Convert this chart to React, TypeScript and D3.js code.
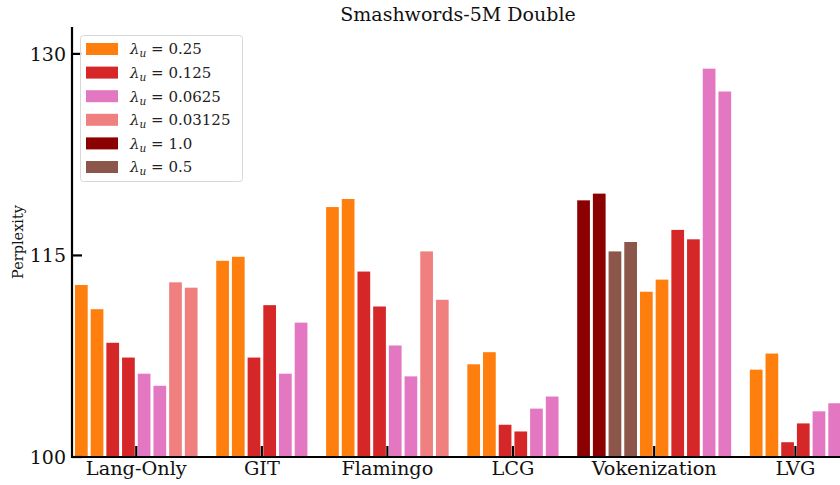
import React from "react";
import * as d3 from "d3";

// lambda_u values shown in the legend, and their colours
const seriesKeys = ["0.25", "0.125", "0.0625", "0.03125", "1.0", "0.5"];
const seriesColors = ["#ff7f0e", "#d62728", "#e377c2", "#f08080", "#8b0000", "#8c564b"];

const categories = ["Lang-Only", "GIT", "Flamingo", "LCG", "Vokenization", "LVG"];

// each series has two bars per model, listed in drawing order
const langOnlySeries = ["0.25", "0.125", "0.0625", "0.03125"];
const langOnlyValues = [112.8, 111.0, 108.5, 107.4, 106.2, 105.3, 113.0, 112.6];

const gitSeries = ["0.25", "0.125", "0.0625"];
const gitValues = [114.6, 114.9, 107.4, 111.3, 106.2, 110.0];

const flamingoSeries = ["0.25", "0.125", "0.0625", "0.03125"];
const flamingoValues = [118.6, 119.2, 113.8, 111.2, 108.3, 106.0, 115.3, 111.7];

const lcgSeries = ["0.25", "0.125", "0.0625"];
const lcgValues = [106.9, 107.8, 102.4, 101.9, 103.6, 104.5];

const vokenizationSeries = ["1.0", "0.5", "0.25", "0.125", "0.0625"];
const vokenizationValues = [119.1, 119.6, 115.3, 116.0, 112.3, 113.2, 116.9, 116.2, 128.9, 127.2];

const lvgSeries = ["0.25", "0.125", "0.0625"];
const lvgValues = [106.5, 107.7, 101.1, 102.5, 103.4, 104.0];

const groupSeries = [langOnlySeries, gitSeries, flamingoSeries, lcgSeries, vokenizationSeries, lvgSeries];
const groupValues = [langOnlyValues, gitValues, flamingoValues, lcgValues, vokenizationValues, lvgValues];

const yTicks = [100, 115, 130];

const W = 840;
const H = 485;
const serif = "'DejaVu Serif', serif";

export default function App() {
  const left = 72;
  const right = 844;
  const top = 27;
  const bottom = 457;

  // lay bars into slots, one empty slot between models
  const bars: { slot: number; value: number; key: string; group: number }[] = [];
  const groupSlots: number[][] = [];
  let slot = 0;
  groupValues.forEach((vals, g) => {
    const slots: number[] = [];
    vals.forEach((v, i) => {
      bars.push({ slot, value: v, key: groupSeries[g][Math.floor(i / 2)], group: g });
      slots.push(slot);
      slot++;
    });
    groupSlots.push(slots);
    slot++;
  });
  const nSlots = slot - 1;

  const x = d3
    .scaleBand<number>()
    .domain(d3.range(nSlots))
    .range([left, right])
    .paddingInner(0.19)
    .paddingOuter(0.19);

  const y = d3.scaleLinear().domain([100, 132]).range([bottom, top]);
  const color = d3.scaleOrdinal<string, string>().domain(seriesKeys).range(seriesColors);

  const groupCenter = (g: number) => {
    const s = groupSlots[g];
    return ((x(s[0]) as number) + (x(s[s.length - 1]) as number) + x.bandwidth()) / 2;
  };

  const legendRowH = 23.6;

  return (
    <div style={{ position: "absolute", left: 0, top: 0 }}>
      <svg width={W} height={H} style={{ display: "block", background: "#fff" }}>
        <text x={458} y={21} textAnchor="middle" fontFamily={serif} fontSize={19} fill="#111">
          Smashwords-5M Double
        </text>
        <text
          transform={`translate(23,${(top + bottom) / 2}) rotate(-90)`}
          textAnchor="middle"
          fontFamily={serif}
          fontSize={14.5}
          fill="#111"
        >
          Perplexity
        </text>

        {bars.map((b, i) => (
          <rect
            key={i}
            x={x(b.slot)}
            y={y(b.value)}
            width={x.bandwidth()}
            height={y(100) - y(b.value)}
            fill={color(b.key)}
          />
        ))}

        {/* spines */}
        <line x1={left} x2={left} y1={top} y2={bottom + 1} stroke="#000" strokeWidth={2.2} />
        <line x1={left - 1} x2={W} y1={bottom} y2={bottom} stroke="#000" strokeWidth={2.2} />

        {yTicks.map((t) => (
          <g key={t}>
            <line x1={left} x2={left + 10} y1={y(t)} y2={y(t)} stroke="#000" strokeWidth={2.2} />
            <text x={66} y={y(t)} dy="0.36em" textAnchor="end" fontFamily={serif} fontSize={19} fill="#111">
              {t}
            </text>
          </g>
        ))}

        {categories.map((c, g) => (
          <g key={c}>
            <line
              x1={groupCenter(g)}
              x2={groupCenter(g)}
              y1={bottom}
              y2={bottom - 11}
              stroke="#000"
              strokeWidth={2.2}
            />
            <text x={groupCenter(g)} y={475} textAnchor="middle" fontFamily={serif} fontSize={19.3} fill="#111">
              {c}
            </text>
          </g>
        ))}

        {/* legend */}
        <g>
          <rect x={80.5} y={35.5} width={162} height={146} rx={3} fill="#fff" fillOpacity={0.85} stroke="#d8d8d8" />
          {seriesKeys.map((k, i) => {
            const cy = 49 + i * legendRowH;
            return (
              <g key={k}>
                <rect x={86} y={cy - 6} width={32} height={12} fill={color(k)} />
                <text x={130} y={cy} dy="0.36em" fontFamily={serif} fontSize={15} fill="#222">
                  <tspan fontStyle="italic">λ</tspan>
                  <tspan fontStyle="italic" fontSize={10.5} dy="3">u</tspan>
                  <tspan dy="-3"> = {k}</tspan>
                </text>
              </g>
            );
          })}
        </g>
      </svg>
    </div>
  );
}
